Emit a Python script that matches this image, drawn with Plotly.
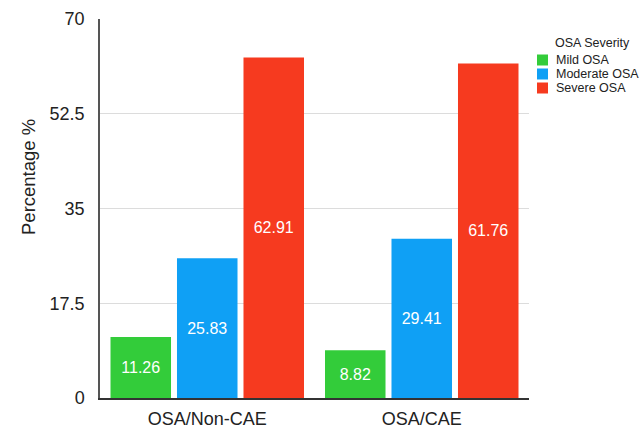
import plotly.graph_objects as go

groups = ["OSA/Non-CAE", "OSA/CAE"]
severity = ["Mild OSA", "Moderate OSA", "Severe OSA"]
values = {
    "Mild OSA": [11.26, 8.82],
    "Moderate OSA": [25.83, 29.41],
    "Severe OSA": [62.91, 61.76],
}
colors = {"Mild OSA": "#33cc3a", "Moderate OSA": "#0fa0f5", "Severe OSA": "#f63a1f"}
y_ticks = [0, 17.5, 35, 52.5, 70]
y_tick_text = ["0", "17.5", "35", "52.5", "70"]
legend_title = "OSA Severity"
y_title = "Percentage %"

W, H = 641, 429
L, R, T, B = 100, 112, 19, 31
font_family = "Liberation Sans, Arial, sans-serif"
ink = "#222"


def px_x(x):
    return (x - L) / (W - L - R)


def px_y(y):
    return (H - B - y) / (H - T - B)


fig = go.Figure()
for s in severity:
    fig.add_trace(go.Bar(
        name=s,
        x=groups,
        y=values[s],
        marker=dict(color=colors[s], line=dict(width=0)),
        text=[f"{v:.2f}" for v in values[s]],
        textposition="inside",
        insidetextanchor="middle",
        textfont=dict(color="white", size=16, family=font_family),
        textangle=0,
        showlegend=False,
    ))

# compact legend: title, colour swatches and labels
annotations = [
    dict(text=legend_title, xref="paper", yref="paper", x=px_x(553), y=px_y(43),
         xanchor="left", yanchor="middle", showarrow=False,
         font=dict(size=12.5, color=ink, family=font_family)),
    dict(text=y_title, xref="paper", yref="paper", x=px_x(28), y=px_y(177),
         xanchor="center", yanchor="middle", showarrow=False, textangle=-90,
         font=dict(size=18.5, color=ink, family=font_family)),
]
shapes = []
for i, s in enumerate(severity):
    cy = 60 + 14 * i
    shapes.append(dict(type="rect", xref="paper", yref="paper",
                       x0=px_x(537), x1=px_x(548), y0=px_y(cy + 5.5), y1=px_y(cy - 5.5),
                       fillcolor=colors[s], line=dict(width=0)))
    annotations.append(dict(text=s, xref="paper", yref="paper", x=px_x(554), y=px_y(cy),
                            xanchor="left", yanchor="middle", showarrow=False,
                            font=dict(size=12.5, color=ink, family=font_family)))

fig.update_layout(
    width=W, height=H,
    margin=dict(l=L, r=R, t=T, b=B, autoexpand=False),
    paper_bgcolor="white", plot_bgcolor="white",
    barmode="group", bargap=0.07, bargroupgap=0.09,
    font=dict(family=font_family, color=ink),
    showlegend=False,
    annotations=annotations,
    shapes=shapes,
    uniformtext=dict(minsize=10, mode="show"),
)
fig.update_yaxes(
    range=[0, 70], tickvals=y_ticks, ticktext=y_tick_text,
    showgrid=True, gridcolor="#dcdcdc", gridwidth=1,
    showline=True, linecolor="#555", linewidth=1.5,
    zeroline=False, ticks="", ticklabelstandoff=10, automargin=False,
    tickfont=dict(size=18, color=ink),
)
fig.update_xaxes(
    showline=True, linecolor="#333", linewidth=1.5, automargin=False,
    ticks="", ticklabelstandoff=4, tickfont=dict(size=18, color=ink),
)

fig.write_html("out.html")
